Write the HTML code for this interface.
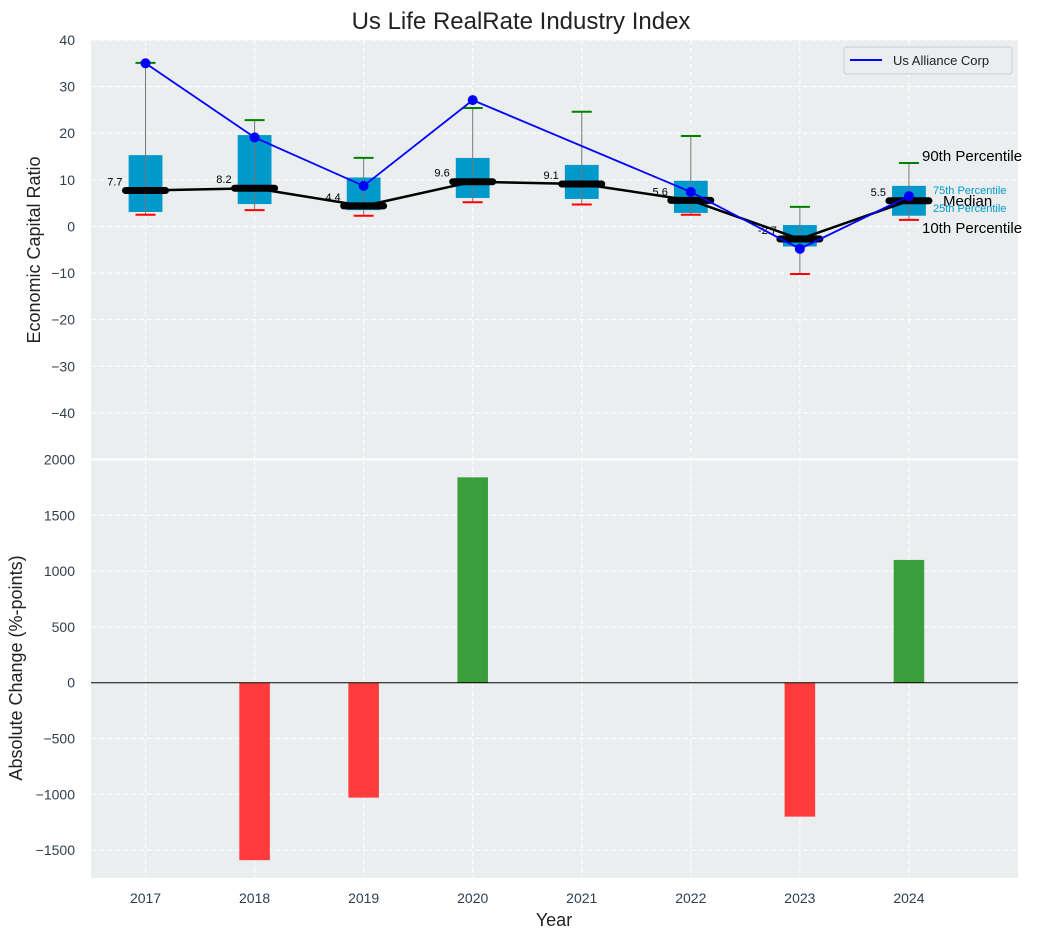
<!DOCTYPE html>
<html><head><meta charset="utf-8">
<style>
body{margin:0;background:#fff;}
svg{display:block;font-family:"Liberation Sans","DejaVu Sans",sans-serif;}
</style></head>
<body>
<svg id="chart" width="1043" height="940" viewBox="0 0 1043 940" xmlns="http://www.w3.org/2000/svg"></svg>
<script>
const years = [2017,2018,2019,2020,2021,2022,2023,2024];
const p10 = [2.5,3.5,2.3,5.2,4.7,2.5,-10.2,1.4];
const p25 = [3.1,4.8,3.5,6.1,5.9,2.9,-4.3,2.3];
const median = [7.7,8.2,4.4,9.6,9.1,5.6,-2.7,5.5];
const p75 = [15.3,19.6,10.5,14.7,13.2,9.8,0.3,8.7];
const p90 = [35.1,22.8,14.7,25.4,24.6,19.4,4.2,13.6];
const alliance = [35.0,19.1,8.7,27.1,null,7.4,-4.8,6.5];
const changes = [0,-1590,-1030,1840,0,0,-1200,1100];
const topTicks = [40,30,20,10,0,-10,-20,-30,-40];
const botTicks = [2000,1500,1000,500,0,-500,-1000,-1500];

const NS="http://www.w3.org/2000/svg";
const svg=document.getElementById('chart');
function mk(tag,attrs,parent){const e=document.createElementNS(NS,tag);for(const k in attrs)e.setAttribute(k,attrs[k]);(parent||svg).appendChild(e);return e;}
const fmt=v=>String(v).replace('-','\u2212');
const L=91,R=1018;
const X=v=>L+(v-2016.5)/(2025-2016.5)*(R-L);
const T0=40,T1=459.5;
const YT=v=>T0+(40-v)/90*(T1-T0);
const B0=459.5,B1=878;
const YB=v=>B0+(2000-v)/3750*(B1-B0);

let t=mk('text',{x:521,y:29,'text-anchor':'middle','font-size':24,fill:'#222'});t.textContent='Us Life RealRate Industry Index';


let bg=mk('rect',{x:L,y:T0,width:R-L,height:T1-T0,fill:'#eaeeef'});

let bg2=mk('rect',{x:L,y:B0,width:R-L,height:B1-B0,fill:'#eaeeef'});

mk('line',{x1:L,x2:R,y1:459.5,y2:459.5,stroke:'#fff','stroke-width':2});

years.forEach(y=>{
  mk('line',{x1:X(y),x2:X(y),y1:T0,y2:T1,stroke:'#fff','stroke-dasharray':'5,3','stroke-width':1});
  mk('line',{x1:X(y),x2:X(y),y1:B0,y2:B1,stroke:'#fff','stroke-dasharray':'5,3','stroke-width':1});
});
topTicks.forEach(v=>{
  mk('line',{x1:L,x2:R,y1:YT(v),y2:YT(v),stroke:'#fff','stroke-dasharray':'5,3'});
  const tx=mk('text',{x:75,y:YT(v)+5,'text-anchor':'end','font-size':14,fill:'#2f3e4e'});tx.textContent=fmt(v);
  
});
botTicks.forEach(v=>{
  mk('line',{x1:L,x2:R,y1:YB(v),y2:YB(v),stroke:'#fff','stroke-dasharray':'5,3'});
  const tx=mk('text',{x:75,y:YB(v)+5,'text-anchor':'end','font-size':14,fill:'#2f3e4e'});tx.textContent=fmt(v);
  
});
years.forEach(y=>{
  const tx=mk('text',{x:X(y),y:903,'text-anchor':'middle','font-size':14,fill:'#2f3e4e'});tx.textContent=y;
  
});

let a1=mk('text',{transform:'translate(40,250) rotate(-90)','text-anchor':'middle','font-size':18,fill:'#222'});a1.textContent='Economic Capital Ratio';

let a2=mk('text',{transform:'translate(22,668) rotate(-90)','text-anchor':'middle','font-size':18,fill:'#222'});a2.textContent='Absolute Change (%-points)';

let a3=mk('text',{x:554,y:926,'text-anchor':'middle','font-size':18,fill:'#222'});a3.textContent='Year';


const bw=0.155;
years.forEach((y,i)=>{
  const g=mk('g',{});
  
  mk('rect',{x:X(y-bw),y:YT(p75[i]),width:X(y+bw)-X(y-bw),height:YT(p25[i])-YT(p75[i]),fill:'#0099cc'},g);
  mk('line',{x1:X(y),x2:X(y),y1:YT(p90[i]),y2:YT(p10[i]),stroke:'#777','stroke-width':1},g);
  mk('line',{x1:X(y)-10,x2:X(y)+10,y1:YT(p90[i]),y2:YT(p90[i]),stroke:'green','stroke-width':2},g);
  mk('line',{x1:X(y)-10,x2:X(y)+10,y1:YT(p10[i]),y2:YT(p10[i]),stroke:'red','stroke-width':2},g);
});
let mp=years.map((y,i)=>X(y)+','+YT(median[i])).join(' ');
let ml=mk('polyline',{points:mp,fill:'none',stroke:'#000','stroke-width':2.5});

years.forEach((y,i)=>{
  const m=mk('line',{x1:X(y)-20,x2:X(y)+20,y1:YT(median[i]),y2:YT(median[i]),stroke:'#000','stroke-width':7,'stroke-linecap':'round'});
  
  const lb=mk('text',{x:X(y)-23,y:YT(median[i])-5,'text-anchor':'end','font-size':11,fill:'#000'});lb.textContent=median[i];
  
});
let ap=[];years.forEach((y,i)=>{if(alliance[i]!==null)ap.push(X(y)+','+YT(alliance[i]));});
let al=mk('polyline',{points:ap.join(' '),fill:'none',stroke:'#0000ff','stroke-width':1.8});

years.forEach((y,i)=>{if(alliance[i]===null)return;
  const c=mk('circle',{cx:X(y),cy:YT(alliance[i]),r:5,fill:'#0000ff'});
  
});
const ann=[['90th Percentile',922,161,15,'#000'],['75th Percentile',933,194,11,'#0099cc'],['Median',943,206,15,'#000'],['25th Percentile',933,212,11,'#0099cc'],['10th Percentile',922,233,15,'#000']];
ann.forEach(a=>{const e=mk('text',{x:a[1],y:a[2],'font-size':a[3],fill:a[4]});e.textContent=a[0];
  });
let lg=mk('g',{});
mk('rect',{x:844,y:47,width:168,height:27,rx:3,fill:'#eaeef1',stroke:'#ccc'},lg);
mk('line',{x1:850,x2:882,y1:60,y2:60,stroke:'#0000ff','stroke-width':2},lg);
let lt=mk('text',{x:893,y:65,'font-size':13,fill:'#222'},lg);lt.textContent='Us Alliance Corp';

changes.forEach((v,i)=>{
  if(v===0)return;
  const y=years[i];
  const r=mk('rect',{x:X(y-0.14),y:YB(Math.max(v,0)),width:X(y+0.14)-X(y-0.14),height:Math.abs(YB(v)-YB(0)),fill:v>0?'#3a9e3a':'#ff3b3b'});
  
});
mk('line',{x1:L,x2:R,y1:YB(0),y2:YB(0),stroke:'#000','stroke-width':1});
</script>
</body></html>
